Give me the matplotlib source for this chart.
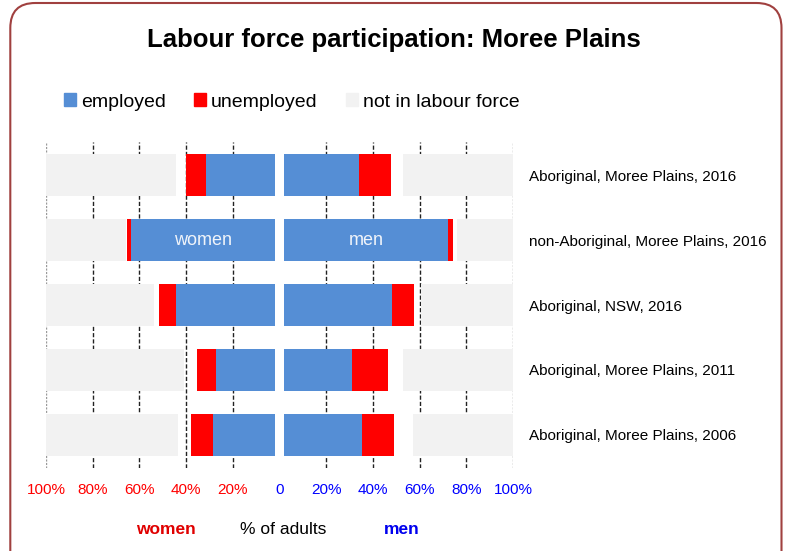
import matplotlib
matplotlib.use("Agg")
import matplotlib.pyplot as plt
from matplotlib.patches import FancyBboxPatch, Patch
import numpy as np

# values (% of adults)
categories = [
    "Aboriginal, Moree Plains, 2016",
    "non-Aboriginal, Moree Plains, 2016",
    "Aboriginal, NSW, 2016",
    "Aboriginal, Moree Plains, 2011",
    "Aboriginal, Moree Plains, 2006",
]
women_employed = [29.3, 61.5, 42.5, 25.3, 26.6]
women_unemployed = [8.6, 2.0, 7.1, 8.2, 9.3]
women_nilf = [55.6, 34.2, 46.3, 59.3, 56.7]
men_employed = [32.2, 70.0, 46.3, 29.2, 33.4]
men_unemployed = [13.4, 2.3, 9.4, 15.3, 13.8]
men_nilf = [47.0, 23.8, 39.4, 47.0, 42.7]

tick_values = [-100, -80, -60, -40, -20, 0, 20, 40, 60, 80, 100]
tick_labels = ["100%", "80%", "60%", "40%", "20%", "0", "20%", "40%", "60%", "80%", "100%"]
legend_labels = ["employed", "unemployed", "not in labour force"]

BLUE = "#558ED5"
RED = "#FF0000"
GREY = "#F2F2F2"
GAP = 2  # blank space each side of the zero line

plt.rcParams["font.family"] = "Liberation Sans"

W, H = 788, 551
fig = plt.figure(figsize=(W / 100, H / 100), dpi=100)
ax = fig.add_axes([46 / W, 1 - 468 / H, (513 - 46) / W, (468 - 142) / H])

y = np.arange(len(categories))
bh = 0.66
we = np.array(women_employed)
wu = np.array(women_unemployed)
wn = np.array(women_nilf)
me = np.array(men_employed)
mu = np.array(men_unemployed)
mn = np.array(men_nilf)

# women to the left (negative), men to the right
ax.barh(y, -we, left=-GAP, height=bh, color=BLUE, zorder=3)
ax.barh(y, -wu, left=-GAP - we, height=bh, color=RED, zorder=3)
ax.barh(y, wn, left=-100, height=bh, color=GREY, zorder=3)
ax.barh(y, me, left=GAP, height=bh, color=BLUE, zorder=3)
ax.barh(y, mu, left=GAP + me, height=bh, color=RED, zorder=3)
ax.barh(y, mn, left=100 - mn, height=bh, color=GREY, zorder=3)

ax.text(-GAP - we[1] / 2, y[1], "women", ha="center", va="center",
        color="#F0F4FA", fontsize=13, zorder=4)
ax.text(GAP + me[1] / 2, y[1], "men", ha="center", va="center",
        color="#F0F4FA", fontsize=13, zorder=4)

for v in tick_values:
    if abs(v) == 100:
        ax.axvline(v, color="#9a9a9a", lw=1, ls=(0, (1.5, 1)), zorder=1)
    elif v != 0:
        ax.axvline(v, color="#222222", lw=1, ls=(0, (3, 1.5)), zorder=1)

ax.set_xlim(-100, 100)
ax.set_ylim(len(categories) - 1 + 0.508, -0.508)
ax.set_xticks(tick_values)
ax.set_xticklabels(tick_labels, fontsize=11)
for lab, v in zip(ax.get_xticklabels(), tick_values):
    lab.set_color(RED if v < 0 else "#0000FF")
ax.tick_params(axis="x", length=0, pad=11)

ax.yaxis.tick_right()
ax.set_yticks(y)
ax.set_yticklabels(categories, fontsize=11)
ax.tick_params(axis="y", length=0, pad=11.5)
for s in ax.spines.values():
    s.set_visible(False)

fig.text(393.5 / W, 1 - 46.7 / H, "Labour force participation: Moree Plains",
         ha="center", va="baseline", fontsize=18.5, fontweight="bold")

handles = [Patch(color=c) for c in [BLUE, RED, GREY]]
fig.legend(handles, legend_labels, loc="center left", ncol=3,
           bbox_to_anchor=(64 / W, 1 - 102 / H), frameon=False, fontsize=14,
           handlelength=0.62, handleheight=0.62, handletextpad=0.26,
           columnspacing=1.44, borderpad=0, borderaxespad=0)

fig.text(166 / W, 1 - 530 / H, "women", ha="center", va="center",
         fontsize=12.5, fontweight="bold", color="#E00000")
fig.text(283 / W, 1 - 530 / H, "% of adults", ha="center", va="center",
         fontsize=12.5, color="black")
fig.text(402 / W, 1 - 530 / H, "men", ha="center", va="center",
         fontsize=12.5, fontweight="bold", color="#0000EE")

frame = FancyBboxPatch((0.103, -0.3), 7.815 - 0.103, 5.48 + 0.3,
                       boxstyle="round,pad=0,rounding_size=0.25",
                       transform=fig.dpi_scale_trans, fill=False,
                       edgecolor="#A0403F", lw=1.5, clip_on=False)
fig.patches.append(frame)

fig.savefig("out.png", dpi=100)
